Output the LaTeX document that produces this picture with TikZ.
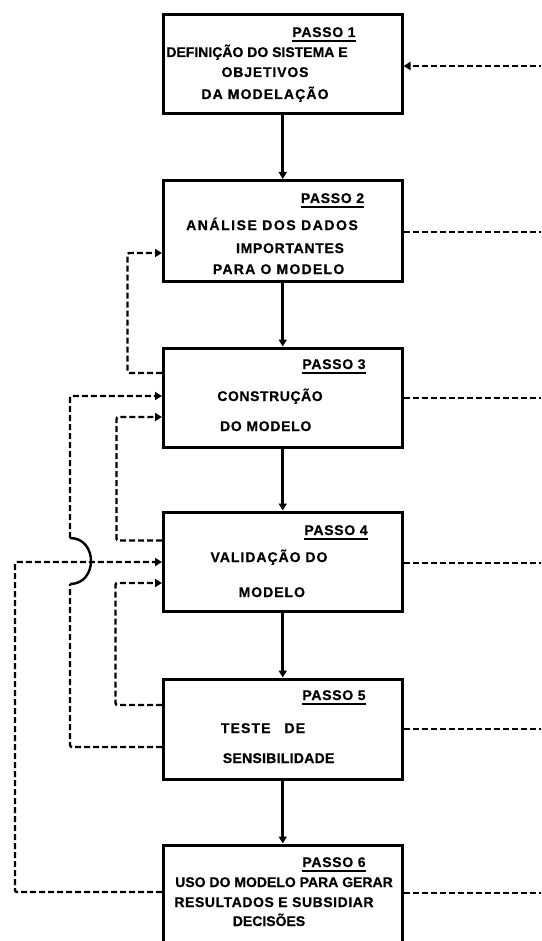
\documentclass[tikz,border=0pt]{standalone}
\usepackage{fontspec}
\setmainfont{Liberation Sans}
\usetikzlibrary{arrows.meta}
\begin{document}
\begin{tikzpicture}[x=1pt,y=-1pt,
  box/.style={draw,line width=3pt,minimum width=238.5pt,inner sep=0pt},
  lbl/.style={font=\fontsize{14}{16}\selectfont\bfseries\addfontfeature{LetterSpace=#1,FakeBold=0.6},inner sep=0pt,text height=10pt,text depth=0pt},
  lbl/.default=0,
  flow/.style={line width=2.6pt,-{Triangle[length=7pt,width=8pt]}},
  fb/.style={line width=2.4pt,dash pattern=on 6pt off 3pt,rounded corners=2pt},
  fbarrow/.style={fb,-{Triangle[length=7pt,width=8pt]}},
  ulin/.style={line width=1.8pt}]
\useasboundingbox (0,0) rectangle (541,941);
\fill[white] (0,0) rectangle (541,941);
\clip (0,0) rectangle (541,941);

% boxes
\node[box,minimum height=99pt]  (b1) at (282.75,64.5) {};
\node[box,minimum height=101pt] (b2) at (282.75,231) {};
\node[box,minimum height=99pt]  (b3) at (282.75,397.5) {};
\node[box,minimum height=99pt]  (b4) at (282.75,561.5) {};
\node[box,minimum height=100pt] (b5) at (282.75,729) {};
\node[box,minimum height=106pt] (b6) at (282.75,898) {};

% texts
\node[lbl=5] (p1) at (324,32) {PASSO 1};
\node[lbl] (t1a) at (257,52) {DEFINIÇÃO DO SISTEMA E};
\node[lbl=6] (t1b) at (265,72) {OBJETIVOS};
\node[lbl=8] (t1c) at (265,94) {DA MODELAÇÃO};

\node[lbl=5] (p2) at (332.5,198) {PASSO 2};
\node[lbl=11] (t2a) at (272,225) {ANÁLISE DOS DADOS};
\node[lbl=5] (t2b) at (290,248) {IMPORTANTES};
\node[lbl=9] (t2c) at (278.6,269) {PARA O MODELO};

\node[lbl=5] (p3) at (334,364) {PASSO 3};
\node[lbl=4] (t3a) at (270,396) {CONSTRUÇÃO};
\node[lbl=5] (t3b) at (265.7,426) {DO MODELO};

\node[lbl=5] (p4) at (336,530) {PASSO 4};
\node[lbl=7] (t4a) at (269,557) {VALIDAÇÃO DO};
\node[lbl=7] (t4b) at (271.8,592) {MODELO};

\node[lbl=5] (p5) at (334,695) {PASSO 5};
\node[lbl=8] (t5a) at (263,728) {TESTE\hspace{14pt}DE};
\node[lbl=2] (t5b) at (278.6,758) {SENSIBILIDADE};

\node[lbl=5] (p6) at (334,862) {PASSO 6};
\node[lbl] (t6a) at (284,882) {USO DO MODELO PARA GERAR};
\node[lbl=4] (t6b) at (274,902) {RESULTADOS E SUBSIDIAR};
\node[lbl] (t6c) at (269,921) {DECISÕES};

% underlines
\foreach \p in {p1,p2,p3,p4,p5,p6}
  \draw[ulin] ([yshift=-3.5pt]\p.south west) -- ([yshift=-3.5pt]\p.south east);

% main flow
\draw[flow] (b1.south) -- (b2.north);
\draw[flow] (b2.south) -- (b3.north);
\draw[flow] (b3.south) -- (b4.north);
\draw[flow] (b4.south) -- (b5.north);
\draw[flow] (b5.south) -- (b6.north);

% right side
\coordinate (e1) at (545,66);
\draw[fbarrow] (e1) -- (b1.east |- e1);
\draw[fb] (b2.east |- 0,232) -- (545,232);
\draw[fb] (b3.east |- 0,398) -- (545,398);
\draw[fb] (b4.east |- 0,563) -- (545,563);
\draw[fb] (b5.east |- 0,729) -- (545,729);
\draw[fb] (b6.east |- 0,893) -- (545,893);

% left feedback loops
\draw[fbarrow] (b3.west |- 0,373) -- (127.5,373) -- (127.5,253) -- (b2.west |- 0,253);
\draw[fbarrow] (b4.west |- 0,540.5) -- (116.5,540.5) -- (116.5,417) -- (b3.west |- 0,417);
\draw[fbarrow] (b5.west |- 0,705) -- (115.5,705) -- (115.5,583) -- (b4.west |- 0,583);
\draw[fbarrow] (b6.west |- 0,892) -- (15,892) -- (15,562) -- (b4.west |- 0,562);
\draw[fb] (b5.west |- 0,747) -- (70,747) -- (70,584);
\draw[line width=2.4pt] (70,584) .. controls (98,584) and (98,538) .. (70,538);
\draw[fbarrow] (70,538) -- (70,396) -- (b3.west |- 0,396);
\end{tikzpicture}
\end{document}
